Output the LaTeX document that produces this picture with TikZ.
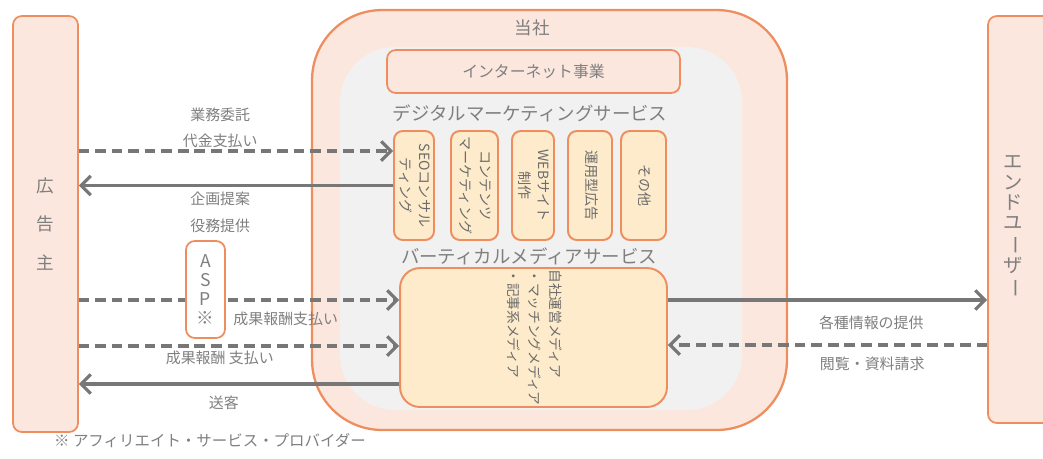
\documentclass[tikz,border=0pt]{standalone}
\usepackage{fontspec}
\setmainfont{Noto Sans CJK JP}
\usetikzlibrary{arrows.meta}
\definecolor{peach}{HTML}{FBE7DE}
\definecolor{rim}{HTML}{EE8E5E}
\definecolor{cream}{HTML}{FDEBCB}
\definecolor{pale}{HTML}{F1F1F1}
\definecolor{ink}{HTML}{7F7F7F}
\definecolor{wire}{HTML}{777777}
\newcommand{\vtext}[2][c]{\rotatebox{-90}{\begin{tabular}{@{}#1@{}}#2\end{tabular}}}

\begin{document}
\begin{tikzpicture}[x=0.02cm,y=-0.02cm,
    box/.style={draw=rim,fill=peach,line width=1pt,rounded corners=5pt,inner sep=0pt,text=ink},
    svc/.style={draw=rim,fill=cream,line width=1.1pt,rounded corners=5pt,inner sep=0pt,text=ink!85!black,font=\fontsize{8}{11}\selectfont},
    lbl/.style={text=ink,font=\fontsize{8.5}{10}\selectfont,align=center,inner sep=1pt},
    head/.style={text=ink,font=\fontsize{10.5}{12}\selectfont,inner sep=0pt},
    flow/.style={draw=wire,line width=1.8pt,-{Straight Barb[length=5.5pt,width=11pt]}},
    pay/.style={flow,dash pattern=on 6pt off 3.4pt}]
  \useasboundingbox (0,0) rectangle (1043,458);
  \clip (0,0) rectangle (1043,458);

  % company
  \node[box,line width=1.3pt,rounded corners=1.4cm,minimum width=9.5cm,minimum height=8.4cm] (corp) at (549.5,220) {};
  \node[fill=pale,rounded corners=1.1cm,minimum width=8.04cm,minimum height=7.26cm] (inner) at (541,228.5) {};
  \node[head,font=\fontsize{10}{12}\selectfont] (corplbl) at (532,28) {当社};
  \node[box,minimum width=5.86cm,minimum height=0.86cm,font=\fontsize{9}{10}\selectfont] (net) at (533.5,71.5) {インターネット事業};

  \node[head] (dms) at (530,113) {デジタルマーケティングサービス};
  \node[svc,minimum width=0.8cm,minimum height=2.18cm] (seo) at (414,185.5) {\vtext{SEOコンサル\\ティング}};
  \node[svc,minimum width=0.94cm,minimum height=2.18cm] (cont) at (474.5,185.5) {\vtext{コンテンツ\\マーケティング}};
  \node[svc,minimum width=0.84cm,minimum height=2.18cm] (web) at (533,185.5) {\vtext{WEBサイト\\制作}};
  \node[svc,minimum width=0.88cm,minimum height=2.18cm] (ads) at (590,185.5) {\vtext{運用型広告}};
  \node[svc,minimum width=0.9cm,minimum height=2.18cm] (misc) at (643.5,185.5) {\vtext{その他}};

  \node[head] (vms) at (529,256) {バーティカルメディアサービス};
  \node[svc,rounded corners=0.4cm,minimum width=5.34cm,minimum height=2.78cm,font=\fontsize{7.8}{12}\selectfont] (media) at (533.5,337.5)
    {\vtext[l]{自社運営メディア\\・マッチングメディア\\・記事系メディア}};

  % parties
  \node[box,minimum width=1.3cm,minimum height=8.32cm,align=center,font=\fontsize{10}{22}\selectfont] (adv) at (45.5,224) {広\\告\\主};
  \node[box,minimum width=1.44cm,minimum height=8.14cm] (user) at (1024,219.5) {};
  \node[text=ink,align=center,inner sep=0pt,font=\fontsize{11}{11.5}\selectfont] (userlbl) at (1013,227)
    {エ\\ン\\ド\\ユ\\\rotatebox[origin=c]{-90}{ー}\\ザ\\\rotatebox[origin=c]{-90}{ー}};

  \coordinate (r1) at ([yshift=0.69cm]seo.west);
  \coordinate (m1) at ([yshift=0.75cm]media.west);
  \coordinate (m2) at ([yshift=-0.17cm]media.west);
  \coordinate (m3) at ([yshift=-0.93cm]media.west);
  \coordinate (n1) at ([yshift=0.75cm]media.east);
  \coordinate (n2) at ([yshift=-0.15cm]media.east);

  \path
    (adv.east |- r1) edge[pay] node[lbl,above,pos=0.45] {業務委託\\[5pt]代金支払い} (r1)
    (seo.west) edge[flow] node[lbl,below=2pt,pos=0.55] {企画提案\\[5pt]役務提供} (adv.east |- seo.west)
    (adv.east |- m1) edge[pay] node[lbl,below=5pt,pos=0.646] {成果報酬支払い} (m1)
    (adv.east |- m2) edge[pay] node[lbl,below=1pt,pos=0.44] {成果報酬 支払い} (m2)
    (m3) edge[flow] node[lbl,below=5pt,pos=0.547] {送客} (adv.east |- m3)
    (n1) edge[flow] node[lbl,below=7pt,pos=0.637] {各種情報の提供} (user.west |- n1)
    (user.west |- n2) edge[pay] node[lbl,below=5pt,pos=0.36] {閲覧・資料請求} (n2)
    ;

  \node[box,fill=white,minimum width=0.78cm,minimum height=1.94cm,align=center,font=\fontsize{10}{10.8}\selectfont] (asp) at (205.5,289.5) {A\\S\\P\\※};

  \node[lbl,anchor=west,font=\fontsize{8.8}{10}\selectfont] (note) at (52,441) {※\ アフィリエイト・サービス・プロバイダー};
\end{tikzpicture}
\end{document}
